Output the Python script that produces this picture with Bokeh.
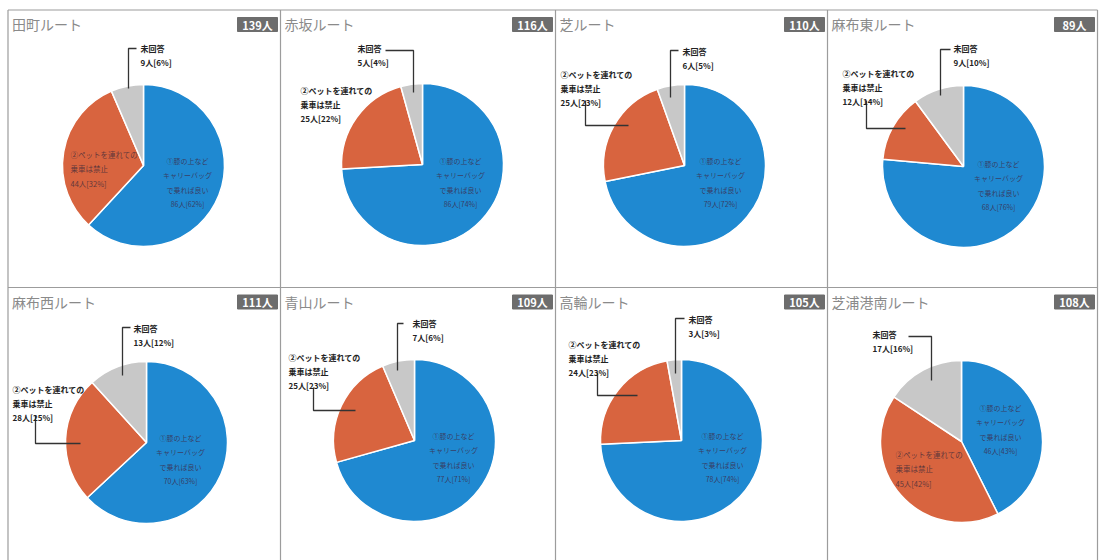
import math
from bokeh.plotting import figure
from bokeh.models import Range1d, ColumnDataSource
from bokeh.core.properties import value
from bokeh.embed import file_html
from bokeh.resources import INLINE

# ---------------- data ----------------
routes = ["田町ルート", "赤坂ルート", "芝ルート", "麻布東ルート",
          "麻布西ルート", "青山ルート", "高輪ルート", "芝浦港南ルート"]
totals = [139, 116, 110, 89, 111, 109, 105, 108]
ans1 = [86, 86, 79, 68, 70, 77, 78, 46]      # ①
ans2 = [44, 25, 25, 12, 28, 25, 24, 45]      # ② ペットを連れての乗車は禁止
noans = [9, 5, 6, 9, 13, 7, 3, 17]           # 未回答
pct1 = [62, 74, 72, 76, 63, 71, 74, 43]
pct2 = [32, 22, 23, 14, 25, 23, 23, 42]
pct3 = [6, 4, 5, 10, 12, 6, 3, 16]
cat1 = "①膝の上など\nキャリーバッグ\nで乗れば良い"
cat2 = "②ペットを連れての\n乗車は禁止"
cat3 = "未回答"

# ---------------- layout / style ----------------
FONT = "Noto Sans CJK JP"
colors = ["#1f89d1", "#d8643f", "#c8c8c8"]
col_edges = [7.5, 280, 555, 827, 1097]
row_edges = [9.5, 287, 560]
pie_cx = [143, 422, 684, 963, 146, 414, 681, 961]
pie_cy = [165, 164, 165, 166, 442, 440, 440, 441]
R = 81
# label offsets from pie center (first line centre)
gray_off = [(-3, -118), (-65, -117), (-2, -115), (-10, -119),
            (-13, -115), (-2, -118), (7, -122), (-89, -108)]
gray_lead = [[(-7, -117), (-15, -117), (-15, -77)],
             [(-37, -114), (-9, -114), (-9, -72)],
             [(-6, -115), (-14, -115), (-14, -68)],
             [(-13, -117), (-23, -117), (-23, -71)],
             [(-16, -115), (-24, -115), (-24, -67)],
             [(-11, -117), (-17, -117), (-17, -70)],
             [(3, -122), (-6, -122), (-6, -67)],
             [(-53, -105), (-30, -105), (-30, -61)]]
org_off = [(-73, -12), (-122, -75), (-124, -92), (-121, -94),
           (-134, -54), (-126, -84), (-113, -97), (-66, 12)]
org_inside = [True, False, False, False, False, False, False, True]
org_lead = [None, None,
            [(-99, -65), (-99, -40), (-56, -40)],
            [(-97, -66), (-97, -38), (-58, -38)],
            [(-111, -27), (-111, 1), (-66, 1)],
            [(-101, -53), (-101, -30), (-59, -30)],
            [(-84, -68), (-84, -45), (-44, -45)],
            None]
blue_off = [(44, -5), (38, -4), (36, -5), (35, -3), (34, -5), (39, -5), (41, -5), (39, -34)]

W, H = 1099, 560
p = figure(width=W, height=H, output_backend="svg", toolbar_location=None,
           x_range=Range1d(0, W), y_range=Range1d(-H, 0),
           min_border=0)
p.axis.visible = False
p.grid.visible = False
p.outline_line_color = None
p.background_fill_color = "white"

# panel borders
xs, ys = [], []
for xe in col_edges:
    xs.append([xe, xe]); ys.append([-row_edges[0], -row_edges[2] - 5])
for ye in row_edges[:2]:
    xs.append([col_edges[0], col_edges[-1]]); ys.append([-ye, -ye])
p.multi_line(xs, ys, line_color="#9c9c9c", line_width=1.2)

# wedges
w = dict(x=[], y=[], s=[], e=[], c=[])
for i in range(8):
    vals = [ans1[i], ans2[i], noans[i]]
    tot = sum(vals)
    cum = 0
    for k, v in enumerate(vals):
        a0 = math.pi / 2 - 2 * math.pi * cum / tot
        cum += v
        a1 = math.pi / 2 - 2 * math.pi * cum / tot
        w["x"].append(pie_cx[i]); w["y"].append(-pie_cy[i])
        w["s"].append(a0); w["e"].append(a1); w["c"].append(colors[k])
p.wedge(x="x", y="y", radius=R, start_angle="s", end_angle="e", direction="clock",
        fill_color="c", line_color="white", line_width=1.5, source=ColumnDataSource(w))

# leader lines
lx, ly = [], []
for i in range(8):
    for lead in (gray_lead[i], org_lead[i]):
        if lead:
            lx.append([pie_cx[i] + d[0] for d in lead])
            ly.append([-(pie_cy[i] + d[1]) for d in lead])
p.multi_line(lx, ly, line_color="#333333", line_width=1.3)

# outside / callout labels
t = dict(x=[], y=[], t=[])
tin = dict(x=[], y=[], t=[])
for i in range(8):
    t["x"].append(pie_cx[i] + gray_off[i][0])
    t["y"].append(-(pie_cy[i] + gray_off[i][1] - 5))
    t["t"].append(f"{cat3}\n{noans[i]}人[{pct3[i]}%]")
    lab2 = f"{cat2}\n{ans2[i]}人[{pct2[i]}%]"
    d = tin if org_inside[i] else t
    d["x"].append(pie_cx[i] + org_off[i][0])
    d["y"].append(-(pie_cy[i] + org_off[i][1] - 5))
    d["t"].append(lab2)
p.text(x="x", y="y", text="t", source=ColumnDataSource(t), text_font=value(FONT),
       text_font_size="8px", text_font_style="bold", text_color="#222222",
       text_align="left", text_baseline="top", text_line_height=1.3)
p.text(x="x", y="y", text="t", source=ColumnDataSource(tin), text_font=value(FONT),
       text_font_size="7.5px", text_color="#4a2f3a", text_alpha=0.85,
       text_align="left", text_baseline="top", text_line_height=1.35)

# inner blue labels
b = dict(x=[], y=[], t=[])
for i in range(8):
    b["x"].append(pie_cx[i] + blue_off[i][0])
    b["y"].append(-(pie_cy[i] + blue_off[i][1] - 5))
    b["t"].append(f"{cat1}\n{ans1[i]}人[{pct1[i]}%]")
p.text(x="x", y="y", text="t", source=ColumnDataSource(b), text_font=value(FONT),
       text_font_size="7px", text_color="#3e2a48", text_alpha=0.8,
       text_align="center", text_baseline="top", text_line_height=1.45)

# titles and badges
tt = dict(x=[], y=[], t=[])
bg = dict(x=[], y=[], t=[])
for i in range(8):
    c, r = i % 4, i // 4
    top = row_edges[r]
    tt["x"].append(col_edges[c] + 4)
    tt["y"].append(-(top + 14))
    tt["t"].append(routes[i])
    bg["x"].append(col_edges[c + 1] - 23)
    bg["y"].append(-(top + 14.5))
    bg["t"].append(f"{totals[i]}人")
p.text(x="x", y="y", text="t", source=ColumnDataSource(tt), text_font=value(FONT),
       text_font_size="14px", text_color="#8a8a8a", text_align="left",
       text_baseline="middle")
p.rect(x="x", y="y", width=40, height=14, source=ColumnDataSource(bg),
       fill_color="#6d6d6d", line_color="#6d6d6d")
p.text(x="x", y="y", text="t", source=ColumnDataSource(bg), text_font=value(FONT),
       text_font_size="11px", text_font_style="bold", text_color="white",
       text_align="center", text_baseline="middle")

open("out.html", "w").write(file_html(p, INLINE))
